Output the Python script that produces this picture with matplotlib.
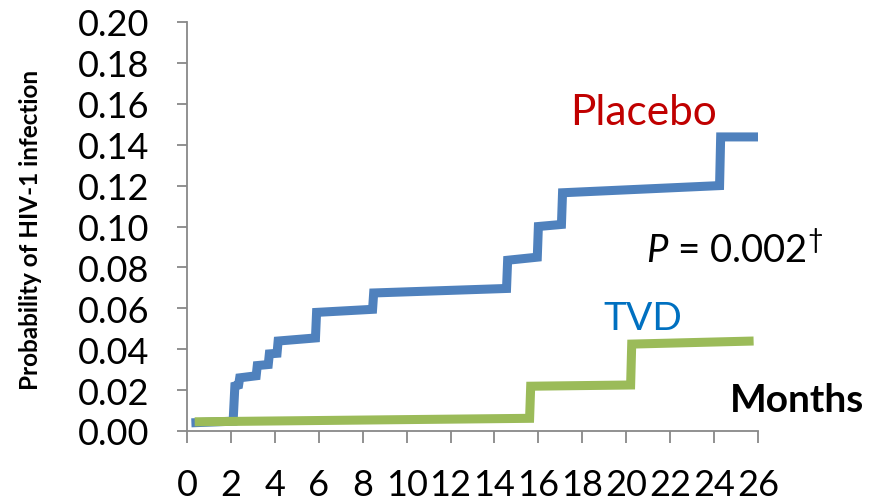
import matplotlib
matplotlib.use('Agg')
import matplotlib.pyplot as plt

# ── Data ──────────────────────────────────────────────────────────────────────
placebo_months = [0.2, 2.1, 2.18, 2.35, 2.4, 3.15, 3.2, 3.7, 3.75, 4.1, 4.15,
                  5.85, 5.9, 8.45, 8.5, 14.55, 14.6, 15.95, 16.0, 17.05, 17.1,
                  24.25, 24.3, 26.0]
placebo_prob = [0.0040, 0.0048, 0.022, 0.0225, 0.026, 0.027, 0.032, 0.0325,
                0.0377, 0.038, 0.044, 0.0455, 0.058, 0.0595, 0.0675, 0.0697,
                0.0835, 0.085, 0.100, 0.101, 0.1165, 0.120, 0.1438, 0.1438]

tvd_months = [0.35, 15.6, 15.65, 20.2, 20.25, 25.8]
tvd_prob = [0.0045, 0.0062, 0.0219, 0.0225, 0.0425, 0.044]

x_ticks = list(range(0, 27, 2))
y_ticks = [i / 100 for i in range(0, 21, 2)]

C_PLACEBO = '#4F81BD'
C_TVD = '#9BBB59'
AXIS_GREY = '#888888'

plt.rcParams.update({
    'font.family': ['Lato', 'DejaVu Sans'],
    'mathtext.fontset': 'custom',
    'mathtext.rm': 'Lato',
    'mathtext.it': 'Lato:italic',
})

fig = plt.figure(figsize=(8.79, 5.02), dpi=100)
ax = fig.add_axes([187 / 879, 1 - 432 / 502, (758 - 187) / 879, (432 - 23) / 502])

ax.plot(placebo_months, placebo_prob, color=C_PLACEBO, lw=6.5,
        solid_capstyle='butt', solid_joinstyle='miter', zorder=3)
ax.plot(tvd_months, tvd_prob, color=C_TVD, lw=6.5,
        solid_capstyle='butt', solid_joinstyle='miter', zorder=4)

ax.set_xlim(0, 26)
ax.set_ylim(0, 0.20)
ax.set_xticks(x_ticks)
ax.set_xticklabels([str(t) for t in x_ticks])
ax.set_yticks(y_ticks)
ax.set_yticklabels([f'{t:.2f}' for t in y_ticks])

for s in ['top', 'right']:
    ax.spines[s].set_visible(False)
for s in ['left', 'bottom']:
    ax.spines[s].set_color(AXIS_GREY)
    ax.spines[s].set_linewidth(1.3)

ax.tick_params(axis='y', direction='out', length=7.2, width=1.3,
               color=AXIS_GREY, labelsize=26, pad=20)
ax.tick_params(axis='x', direction='out', length=8.6, width=1.3,
               color=AXIS_GREY, labelsize=26, pad=18)

# labels and annotations
fig.text(31 / 879, 1 - 230 / 502, 'Probability of HIV-1 infection',
         rotation=90, ha='center', va='center', fontsize=17.5, fontweight='bold')

ax.text(17.44, 0.150, 'Placebo', color='#C00000', fontsize=30.5,
        ha='left', va='baseline')
ax.text(20.9, 0.0826, r'$\mathit{P}$ = 0.002$^{\dagger}$', color='black',
        fontsize=27.5, ha='left', va='baseline')
ax.text(18.94, 0.0499, 'TVD', color='#0070C0', fontsize=28,
        ha='left', va='baseline')
ax.text(24.73, 0.0098, 'Months', color='black', fontsize=28,
        fontweight='bold', ha='left', va='baseline', clip_on=False)

fig.savefig('out.png', dpi=100)
